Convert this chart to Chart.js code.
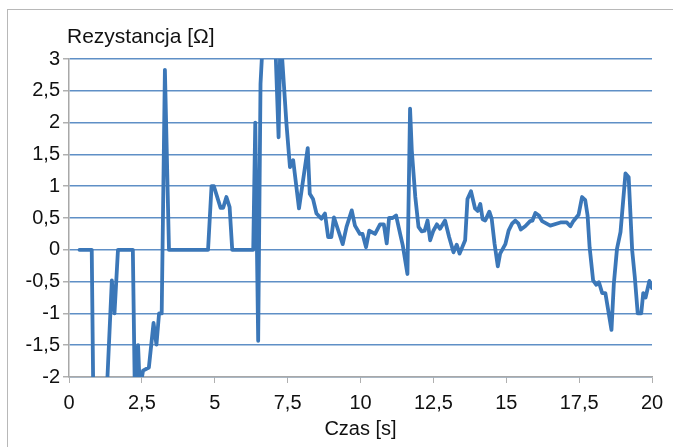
<!DOCTYPE html>
<html>
<head>
<meta charset="utf-8">
<script src="https://cdn.jsdelivr.net/npm/chart.js@4"></script>
<style>
  html, body { margin: 0; padding: 0; background: #fff; }
  #wrap { position: relative; width: 673px; height: 447px; overflow: hidden; }
  #frame { position: absolute; left: 7px; top: 9px; width: 700px; height: 500px; border: 1px solid #b8b8b8; }
  #c { position: absolute; left: 0; top: 0; }
</style>
</head>
<body>
<div id="wrap">
  <div id="frame"></div>
  <canvas id="c" width="673" height="447"></canvas>
</div>
<script>
// czas [s]
const times = [
  0.36, 0.78, 0.84, 1.26, 1.47, 1.56, 1.68, 2.19, 2.26, 2.37, 2.43, 2.54, 2.74, 2.9, 3.0, 3.09, 3.18, 3.29, 3.43,
  4.77, 4.89, 4.97, 5.2, 5.29, 5.4, 5.51, 5.6, 6.32, 6.39, 6.49, 6.57, 6.66, 7.05, 7.19, 7.25, 7.3, 7.46, 7.58,
  7.69, 7.89, 8.19, 8.26, 8.37, 8.49, 8.66, 8.78, 8.89, 9.0, 9.09, 9.24, 9.39, 9.52, 9.7, 9.81, 9.98, 10.07,
  10.19, 10.3, 10.5, 10.67, 10.8, 10.9, 10.98, 11.1, 11.22, 11.36, 11.45, 11.61, 11.7, 11.76, 11.88, 11.99,
  12.1, 12.2, 12.3, 12.39, 12.5, 12.62, 12.73, 12.9, 13.04, 13.19, 13.3, 13.4, 13.59, 13.67, 13.79, 13.93,
  14.02, 14.11, 14.19, 14.28, 14.42, 14.5, 14.6, 14.71, 14.79, 14.97, 15.08, 15.2, 15.31, 15.42, 15.5, 15.65,
  15.82, 15.9, 16.0, 16.12, 16.23, 16.51, 16.86, 17.08, 17.2, 17.3, 17.48, 17.6, 17.71, 17.79, 17.86, 17.98,
  18.09, 18.18, 18.29, 18.4, 18.61, 18.69, 18.8, 18.92, 19.09, 19.2, 19.32, 19.41, 19.51, 19.63, 19.7, 19.78,
  19.91, 20.0
];
// rezystancja [Ohm]
const resistance = [
  0, 0, -2.6, -2.6, -0.48, -1.0, 0, 0, -2.3, -1.5, -2.2, -1.9, -1.85, -1.15, -1.49, -1.0, -1.0, 2.83, 0,
  0, 1.0, 1.0, 0.66, 0.66, 0.83, 0.67, 0, 0, 2.0, -1.43, 2.61, 3.4, 3.6, 1.77, 3.3, 3.1, 1.98, 1.3,
  1.41, 0.65, 1.6, 0.88, 0.8, 0.57, 0.49, 0.57, 0.2, 0.2, 0.51, 0.3, 0.09, 0.36, 0.62, 0.38, 0.25, 0.25,
  0.04, 0.3, 0.25, 0.4, 0.4, 0.1, 0.5, 0.5, 0.54, 0.25, 0.07, -0.38, 2.22, 1.56, 0.83, 0.36,
  0.29, 0.3, 0.46, 0.15, 0.3, 0.4, 0.33, 0.46, 0.2, -0.04, 0.08, -0.06, 0.15, 0.8, 0.92, 0.65,
  0.61, 0.72, 0.48, 0.46, 0.6, 0.49, 0.09, -0.26, -0.06, 0.09, 0.3, 0.41, 0.46, 0.41, 0.32, 0.37,
  0.45, 0.46, 0.58, 0.54, 0.45, 0.38, 0.43, 0.43, 0.37, 0.45, 0.55, 0.83, 0.78, 0.54, 0.04, -0.48,
  -0.55, -0.51, -0.68, -0.68, -1.26, -0.54, 0.02, 0.28, 1.2, 1.14, -0.01, -0.43, -1.0, -1.0, -0.68, -0.75,
  -0.49, -0.6
];
const xTicks = [0, 2.5, 5, 7.5, 10, 12.5, 15, 17.5, 20];
const yTicks = [-2, -1.5, -1, -0.5, 0, 0.5, 1, 1.5, 2, 2.5, 3];

const fontFamily = '"Liberation Sans", Arial, Helvetica, sans-serif';
const fmt = v => String(v).replace('.', ',');

// tytul osi Y nad wykresem
const yTitlePlugin = {
  id: 'yTitle',
  afterDraw(chart) {
    const ctx = chart.ctx;
    ctx.save();
    ctx.font = '21px ' + fontFamily;
    ctx.fillStyle = '#111';
    ctx.textAlign = 'left';
    ctx.textBaseline = 'alphabetic';
    ctx.fillText('Rezystancja [Ω]', chart.chartArea.left - 2, chart.chartArea.top - 16);
    ctx.restore();
  }
};

const ctx = document.getElementById('c').getContext('2d');
new Chart(ctx, {
  type: 'line',
  data: {
    datasets: [{
      data: times.map((t, i) => ({ x: t, y: resistance[i] })),
      borderColor: '#3b77b8',
      borderWidth: 3.8,
      pointRadius: 0,
      tension: 0,
      borderJoinStyle: 'round',
      borderCapStyle: 'round',
      clip: 0
    }]
  },
  options: {
    responsive: false,
    animation: false,
    layout: { padding: { left: 0, top: 59, right: 21, bottom: 6 } },
    plugins: { legend: { display: false }, tooltip: { enabled: false } },
    scales: {
      x: {
        type: 'linear',
        min: 0,
        max: 20,
        afterBuildTicks: s => { s.ticks = xTicks.map(v => ({ value: v })); },
        afterFit: s => { s.height = 64; },
        grid: { drawOnChartArea: false, drawTicks: true, tickLength: 6, tickColor: '#b0b0b0' },
        border: { color: '#a8a8a8', width: 1.5 },
        ticks: {
          color: '#111',
          font: { family: fontFamily, size: 20 },
          padding: 8,
          maxRotation: 0,
          callback: v => fmt(v)
        },
        title: {
          display: true,
          text: 'Czas [s]',
          color: '#111',
          font: { family: fontFamily, size: 20 },
          padding: { top: 0, bottom: 0 }
        }
      },
      y: {
        min: -2,
        max: 3,
        afterBuildTicks: s => { s.ticks = yTicks.map(v => ({ value: v })); },
        afterFit: s => { s.width = 69; },
        grid: { color: '#5f8fc6', lineWidth: 1.5, drawTicks: true, tickLength: 6, tickColor: '#b0b0b0' },
        border: { color: '#a8a8a8', width: 1.5 },
        ticks: {
          color: '#111',
          font: { family: fontFamily, size: 20 },
          padding: 3,
          callback: v => fmt(v)
        }
      }
    }
  },
  plugins: [yTitlePlugin]
});
</script>
</body>
</html>
